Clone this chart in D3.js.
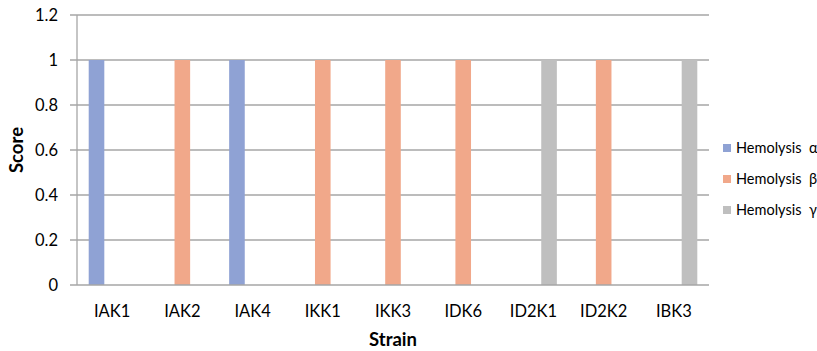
<!DOCTYPE html>
<html><head><meta charset="utf-8">
<script src="https://cdn.jsdelivr.net/npm/d3@7"></script>
<style>body{margin:0;background:#fff}svg{display:block}text{font-family:Lato,"Open Sans",sans-serif;fill:#000}</style>
</head><body>
<script>
const categories = ["IAK1","IAK2","IAK4","IKK1","IKK3","IDK6","ID2K1","ID2K2","IBK3"];
const seriesNames = ["Hemolysis  α","Hemolysis  β","Hemolysis  γ"];
const alphaValues = [1,0,1,0,0,0,0,0,0];
const betaValues  = [0,1,0,1,1,1,0,1,0];
const gammaValues = [0,0,0,0,0,0,1,0,1];
const yTicks = [0,0.2,0.4,0.6,0.8,1,1.2];
const colors = ["#8FA2D4","#F1A88A","#BFBFBF"];
const seriesValues = [alphaValues, betaValues, gammaValues];

const W = 817, H = 351;
const m = {left:77, right:108, top:15, bottom:66};
const svg = d3.select("body").append("svg").attr("width",W).attr("height",H);
const x = d3.scaleBand().domain(categories).range([m.left, W-m.right]).paddingInner(0).paddingOuter(0);
const y = d3.scaleLinear().domain([0,1.2]).range([H-m.bottom, m.top]);
const nS = seriesNames.length;
const bw = x.bandwidth()/(nS+1.5);
const x1 = d3.scaleBand().domain(d3.range(nS)).range([0.75*bw, 0.75*bw+nS*bw]);

// gridlines
svg.append("g").selectAll("line").data(yTicks.filter(d=>d>0)).join("line")
  .attr("x1",70).attr("x2",W-m.right).attr("y1",d=>y(d)).attr("y2",d=>y(d))
  .attr("stroke","#A6A6A6").attr("stroke-width",1.3);

// bars
seriesValues.forEach((vals,si)=>{
  svg.append("g").selectAll("rect").data(categories.map((c,i)=>({c,v:vals[i]}))).join("rect")
    .filter(d=>d.v>0)
    .attr("x",d=>x(d.c)+x1(si)).attr("width",x1.bandwidth())
    .attr("y",d=>y(d.v)).attr("height",d=>y(0)-y(d.v))
    .attr("fill",colors[si]);
});

// axes lines
svg.append("line").attr("x1",m.left).attr("x2",m.left).attr("y1",y(1.2)).attr("y2",y(0)).attr("stroke","#A6A6A6").attr("stroke-width",1.3);
svg.append("line").attr("x1",70).attr("x2",W-m.right).attr("y1",y(0)).attr("y2",y(0)).attr("stroke","#A6A6A6").attr("stroke-width",1.3);

// y tick labels
svg.append("g").selectAll("text").data(yTicks).join("text")
  .attr("x",58).attr("y",d=>y(d)).attr("dy","0.35em").attr("text-anchor","end")
  .style("font-size","16.5px").text(d=>d3.format("")(d));

// x labels
svg.append("g").selectAll("text").data(categories).join("text")
  .attr("x",d=>x(d)+x.bandwidth()/2).attr("y",317).attr("text-anchor","middle")
  .style("font-size","16.5px").text(d=>d);

// axis titles
svg.append("text").attr("x",(m.left+W-m.right)/2).attr("y",346).attr("text-anchor","middle")
  .style("font-size","18.5px").style("font-weight","bold").text("Strain");
svg.append("text").attr("transform",`translate(23,${(y(0)+y(1.2))/2}) rotate(-90)`).attr("text-anchor","middle")
  .style("font-size","18.5px").style("font-weight","bold").text("Score");

// legend
const lg = svg.append("g").selectAll("g").data(seriesNames).join("g")
  .attr("transform",(d,i)=>`translate(723,${148+i*31})`);
lg.append("rect").attr("x",0).attr("y",-4).attr("width",8).attr("height",8).attr("fill",(d,i)=>colors[i]);
lg.append("text").attr("x",13).attr("y",0).attr("dy","0.35em").style("font-size","14.5px").style("white-space","pre").text(d=>d);
</script>
</body></html>
